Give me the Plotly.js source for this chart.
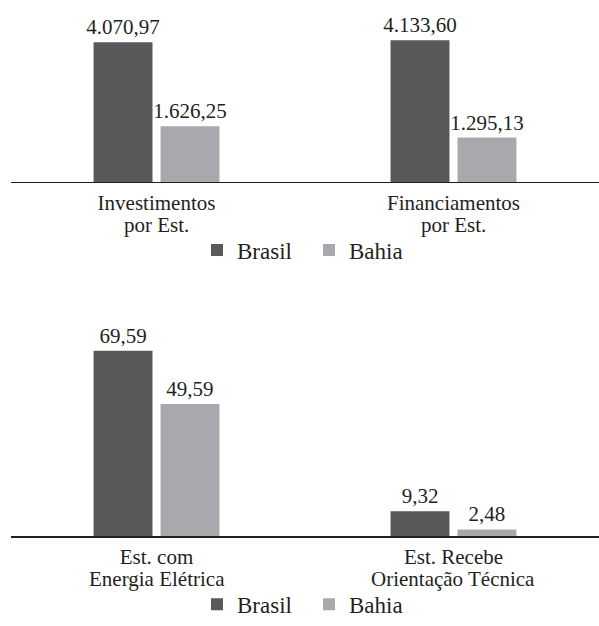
<!DOCTYPE html>
<html>
<head>
<meta charset="utf-8">
<script src="https://cdn.plot.ly/plotly-3.0.1.min.js"></script>
<style>html,body{margin:0;padding:0;background:#fff;}#chart{width:599px;height:626px;}</style>
</head>
<body>
<div id="chart"></div>
<script>
// ---- data ----
const seriesNames = ['Brasil', 'Bahia'];
const catTop = ['Investimentos<br>por Est.', 'Financiamentos<br>por Est.'];
const brasilTop = [4070.97, 4133.60];
const bahiaTop = [1626.25, 1295.13];
const catBottom = ['Est. com<br>Energia Elétrica', 'Est. Recebe<br>Orientação Técnica'];
const brasilBottom = [69.59, 9.32];
const bahiaBottom = [49.59, 2.48];

// ---- styles ----
const FONT = 'Liberation Serif';
const TXT = '#231f20';
const colBrasil = '#58595b';
const colBahia = '#a7a9ac';

const line1 = c => c.map(s => s.split('<br>')[0]);
const line2 = c => c.map(s => s.split('<br>')[1]);

function bar(name, x, y, color, xa, ya, legend) {
  return {
    type: 'bar', name: name, x: x, y: y, xaxis: xa, yaxis: ya,
    marker: {color: color, line: {width: 0}},
    texttemplate: '%{y:,.2f}', textposition: 'outside', constraintext: 'none',
    textfont: {family: FONT, size: 21, color: TXT},
    cliponaxis: false, legend: legend, hoverinfo: 'x+y'
  };
}

const data = [
  bar(seriesNames[0], catTop, brasilTop, colBrasil, 'x', 'y', 'legend'),
  bar(seriesNames[1], catTop, bahiaTop, colBahia, 'x', 'y', 'legend'),
  bar(seriesNames[0], catBottom, brasilBottom, colBrasil, 'x2', 'y2', 'legend2'),
  bar(seriesNames[1], catBottom, bahiaBottom, colBahia, 'x2', 'y2', 'legend2')
];

const H = 626;
const topAxisPx = 185.5, botAxisPx = 546.5, botTopPx = 300;
const xr = [-0.49, 1.49];

const baseX = {
  range: xr, showgrid: false, zeroline: false, showline: true,
  linecolor: TXT, linewidth: 1.5, ticks: '', fixedrange: true,
  tickfont: {family: FONT, size: 21, color: TXT}, ticklabelstandoff: 1
};
const baseY = {visible: false, showgrid: false, zeroline: false, fixedrange: true};

const legendBase = {
  orientation: 'h', xanchor: 'left', yanchor: 'middle', x: (197 - 11) / 588,
  font: {family: FONT, size: 23, color: TXT}, itemwidth: 30, entrywidth: 67,
  bgcolor: 'rgba(0,0,0,0)', traceorder: 'normal'
};

// second line of each category label, set under the tick label
function secondLines(cats, xref, axisPx) {
  return line2(cats).map((t, i) => ({
    text: t, xref: xref, x: i, yref: 'paper', y: 1 - (axisPx + 31) / H,
    yanchor: 'top', xanchor: 'center', showarrow: false, borderpad: 0,
    font: {family: FONT, size: 21, color: TXT}
  }));
}

const layout = {
  width: 599, height: 626,
  margin: {l: 11, r: 0, t: 0, b: 0},
  paper_bgcolor: '#fff', plot_bgcolor: '#fff',
  font: {family: FONT, color: TXT},
  separators: ',.',
  barmode: 'group', bargap: 0.549, bargroupgap: 0.12,
  showlegend: true,
  xaxis: Object.assign({}, baseX, {anchor: 'y', type: 'category', tickmode: 'array', tickvals: catTop, ticktext: line1(catTop)}),
  yaxis: Object.assign({}, baseY, {anchor: 'x', domain: [1 - topAxisPx / H, 1], range: [0, topAxisPx * 28.6]}),
  xaxis2: Object.assign({}, baseX, {anchor: 'y2', type: 'category', tickmode: 'array', tickvals: catBottom, ticktext: line1(catBottom)}),
  yaxis2: Object.assign({}, baseY, {anchor: 'x2', domain: [1 - botAxisPx / H, 1 - botTopPx / H], range: [0, (botAxisPx - botTopPx) * 0.3685]}),
  legend: Object.assign({}, legendBase, {y: 1 - 255 / H}),
  legend2: Object.assign({}, legendBase, {y: 1 - 616 / H}),
  annotations: secondLines(catTop, 'x', topAxisPx).concat(secondLines(catBottom, 'x2', botAxisPx))
};

Plotly.newPlot('chart', data, layout, {displayModeBar: false, staticPlot: true});
</script>
</body>
</html>
